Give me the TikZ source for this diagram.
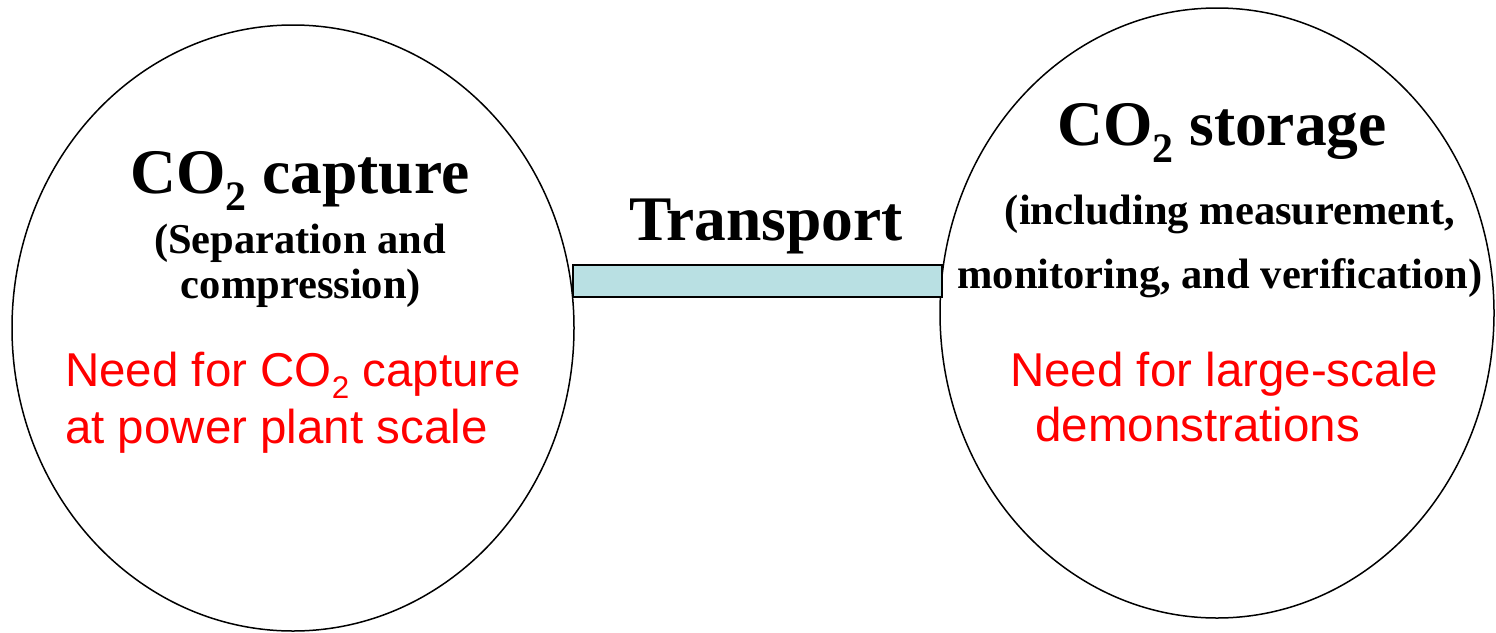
\documentclass[tikz,border=0pt]{standalone}
\usepackage{fontspec}
\setmainfont{Liberation Serif}
\newfontfamily\arialfont{Liberation Sans}
\definecolor{barfill}{RGB}{185,224,227}
\newcommand{\subtwo}{\raisebox{-0.27em}{\scalebox{0.66}{2}}}
\begin{document}
\begin{tikzpicture}[x=1pt,y=-1pt,
  title/.style={anchor=base,inner sep=0pt,font=\fontsize{63.5}{70}\selectfont\bfseries},
  sub/.style={anchor=base,inner sep=0pt,font=\fontsize{42.5}{48}\selectfont\bfseries},
  redtxt/.style={anchor=base west,inner sep=0pt,text=red,font=\arialfont\fontsize{47.5}{57}\selectfont}]
\useasboundingbox (0,0) rectangle (1496,632);
% ellipses
\draw[line width=1.5pt] (293,328) ellipse [x radius=281, y radius=303];
\draw[line width=1.5pt] (1217,313) ellipse [x radius=277, y radius=305];
\coordinate (capR) at (572,281);
\coordinate (stoL) at (941,281);
% transport bar
\node[draw=black,line width=1.5pt,fill=barfill,minimum width=369pt,minimum height=32pt,inner sep=0pt,anchor=west] (bar) at (capR) {};
% left texts
\node[title] (capt) at (300,193) {CO\subtwo\ capture};
\node[sub] (sep1) at (300,253) {(Separation and};
\node[sub] (sep2) at (301,298) {compression)};
\node[redtxt] (need1) at (65,386) {Need for CO\subtwo\ capture};
\node[redtxt] (need2) at (65,443) {at power plant scale};
% transport
\node[title] (trans) at (766,240) {Transport};
% right texts
\node[title] (stor) at (1222,145) {CO\subtwo\ storage};
\node[sub] (inc1) at (1230,224) {(including measurement,};
\node[sub] (inc2) at (1220,288) {monitoring, and verification)};
\node[redtxt] (dem1) at (1010,386) {Need for large-scale};
\node[redtxt] (dem2) at (1035,441) {demonstrations};
\end{tikzpicture}
\end{document}
